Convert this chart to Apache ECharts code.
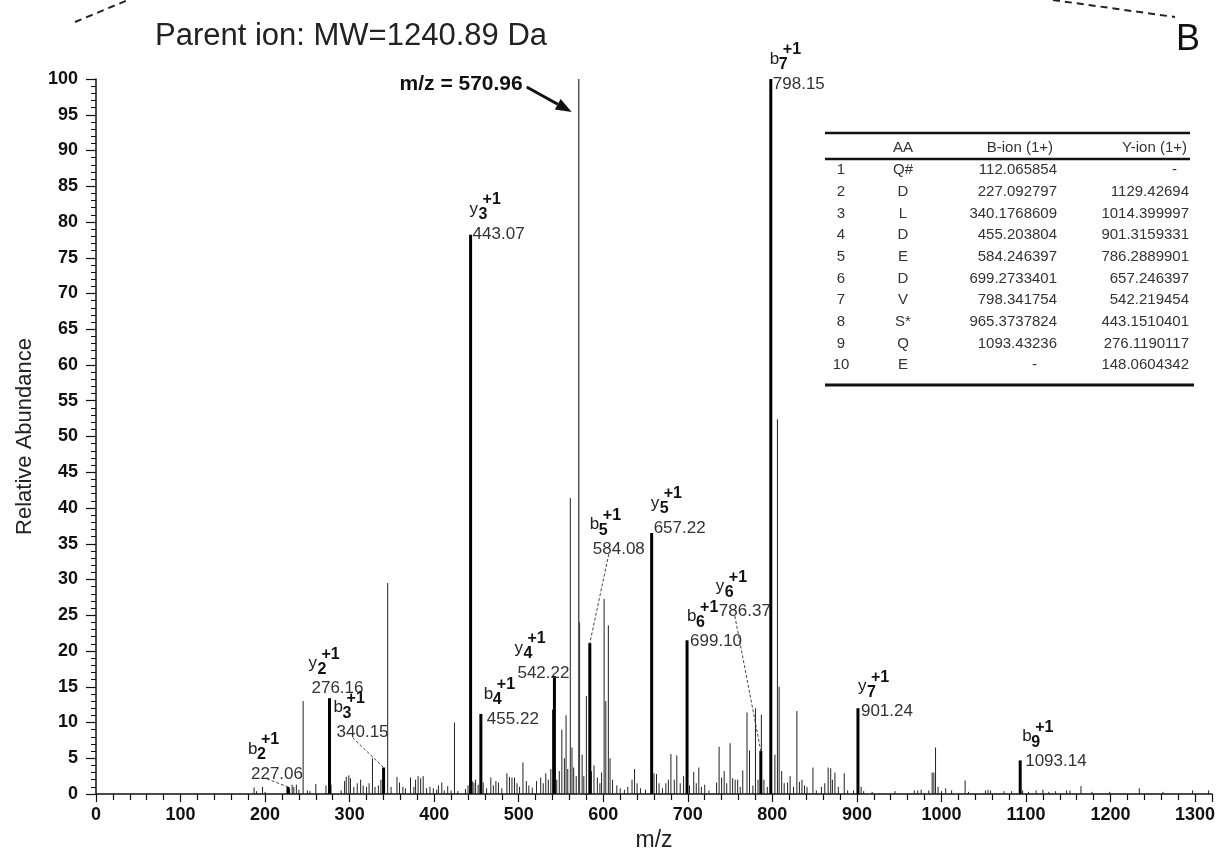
<!DOCTYPE html>
<html>
<head>
<meta charset="utf-8">
<script src="https://cdn.jsdelivr.net/npm/echarts@6/dist/echarts.min.js"></script>
<style>
  html, body { margin: 0; background: #fff; }
  #chart { width: 1221px; height: 851px; }
</style>
</head>
<body>
<div id="chart"></div>
<script>
const FONT = '"Liberation Sans", Arial, sans-serif';

// labelled fragment ions (drawn as thick sticks)
const ionNames = ['b2', 'y2', 'b3', 'y3', 'b4', 'y4', 'b5', 'y5', 'b6', 'y6', 'b7', 'y7', 'b9'];
const ionMz = [227.06, 276.16, 340.15, 443.07, 455.22, 542.22, 584.08, 657.22, 699.10, 786.37, 798.15, 901.24, 1093.14];
const ionAbundance = [1.0, 13.4, 3.7, 78.2, 11.2, 16.5, 21.1, 36.5, 21.5, 6.0, 100, 12.0, 4.7];

// precursor peak pointed at by the arrow
const parentMz = [570.96];
const parentAbundance = [100];

// other (unlabelled) peaks
const peakMz = [
  187, 190, 197, 200, 229, 232, 234, 237, 240, 245, 250, 253, 260, 272, 278, 290,
  294, 296, 299, 301, 305, 309, 313, 316, 320, 323, 327, 330, 334, 337, 345, 349,
  356, 359, 363, 366, 372, 376, 378, 381, 384, 387, 391, 395, 399, 403, 405, 409,
  412, 416, 420, 424, 428, 437, 440, 445, 447, 449, 452, 458, 462, 467, 470, 473,
  476, 480, 486, 489, 492, 495, 498, 501, 505, 509, 512, 516, 521, 526, 529, 532,
  535, 538, 540, 545, 548, 551, 554, 556, 558, 561, 563, 565, 568, 572, 575, 577,
  580, 586, 589, 593, 596, 598, 601, 603, 606, 608, 611, 616, 620, 625, 629, 634,
  637, 640, 644, 650, 660, 663, 666, 670, 674, 677, 680, 684, 687, 691, 695, 702,
  707, 710, 713, 716, 720, 725, 734, 737, 740, 743, 746, 750, 753, 756, 759, 762,
  765, 770, 773, 777, 780, 783, 787, 790, 794, 803, 806, 808, 811, 814, 818, 821,
  825, 829, 832, 835, 838, 841, 848, 852, 858, 862, 866, 869, 871, 874, 878, 885,
  889, 896, 905, 908, 918, 945, 968, 972, 976, 985, 989, 991, 993, 996, 1000, 1005,
  1012, 1028, 1032, 1052, 1055, 1058, 1074, 1083, 1096, 1103, 1112, 1120, 1127, 1135, 1148, 1152,
  1165, 1178, 1199, 1234, 1262, 1297, 1316
];
const peakAbundance = [
  0.9, 0.4, 1.0, 0.3, 0.8, 1.3, 1.0, 1.3, 0.6, 13.0, 0.5, 0.4, 1.4, 1.2, 1.3, 0.5,
  1.8, 2.4, 2.6, 2.2, 1.0, 1.5, 2.0, 1.2, 1.0, 1.5, 5.0, 1.0, 1.2, 2.0, 29.5, 1.0,
  2.4, 1.6, 1.0, 0.8, 2.3, 1.0, 2.0, 2.5, 2.2, 2.5, 0.8, 1.0, 0.8, 0.6, 1.2, 1.6,
  0.5, 1.1, 0.5, 10.0, 0.4, 0.7, 1.2, 1.8, 1.6, 2.0, 1.3, 1.6, 0.8, 2.3, 1.2, 1.8,
  1.6, 0.8, 2.9, 2.4, 2.3, 2.3, 1.5, 1.0, 4.4, 1.8, 1.2, 0.9, 1.8, 2.3, 1.5, 2.9,
  2.0, 3.5, 11.8, 2.0, 3.2, 9.0, 5.0, 11.0, 3.5, 41.4, 6.5, 3.7, 2.5, 24.0, 5.5, 2.5,
  13.7, 3.2, 4.0, 2.3, 1.5, 3.0, 27.3, 13.0, 23.6, 5.0, 2.0, 1.2, 0.8, 0.6, 1.0, 2.0,
  3.5, 1.5, 0.8, 0.6, 2.9, 2.8, 1.5, 0.8, 1.5, 2.0, 5.6, 2.0, 5.4, 1.5, 2.5, 1.2,
  3.1, 1.5, 3.7, 1.0, 1.3, 0.5, 1.6, 6.6, 2.3, 3.2, 1.5, 7.1, 2.2, 2.0, 2.0, 1.0,
  3.3, 11.4, 6.1, 1.2, 12.0, 2.0, 11.1, 2.0, 1.0, 5.5, 52.4, 15.0, 3.2, 1.5, 1.6, 2.5,
  1.0, 11.6, 1.7, 2.0, 1.2, 1.0, 3.7, 0.5, 1.0, 1.5, 3.7, 3.6, 2.0, 3.0, 1.0, 2.9,
  0.5, 0.5, 1.0, 0.4, 0.3, 0.4, 0.5, 0.5, 0.6, 0.5, 3.0, 3.0, 6.5, 1.0, 0.4, 0.8,
  0.5, 1.9, 0.3, 0.5, 0.6, 0.5, 0.4, 0.4, 0.5, 0.3, 0.5, 0.6, 0.3, 0.4, 0.5, 0.5,
  1.1, 0.3, 0.3, 0.8, 0.3, 0.5, 0.5
];

// inset table of theoretical fragment masses
const tableAA = ['Q#', 'D', 'L', 'D', 'E', 'D', 'V', 'S*', 'Q', 'E'];
const tableB = ['112.065854', '227.092797', '340.1768609', '455.203804', '584.246397',
  '699.2733401', '798.341754', '965.3737824', '1093.43236', '-'];
const tableY = ['-', '1129.42694', '1014.399997', '901.3159331', '786.2889901',
  '657.246397', '542.219454', '443.1510401', '276.1190117', '148.0604342'];
const tableHead = ['AA', 'B-ion (1+)', 'Y-ion (1+)'];

// label placement tweaks (px) and whether a leader line is drawn
const labelShift = [
  [-41, -15], [-22, -12], [-51, -37], [-2, -3], [2, 3], [-41, -5], [-1, -96],
  [-2, -7], [-1, -1], [-46, -142], [-2, 3], [-1, 1], [1, -1]
];
const labelLeader = [true, false, true, false, false, false, true, false, false, true, false, false, false];

function txt(t, x, y, size, weight, color, align) {
  return {
    type: 'text', x: x, y: y,
    style: {
      text: t, fill: color, fontSize: size, fontWeight: weight, fontFamily: FONT,
      align: align || 'left', verticalAlign: 'middle'
    }
  };
}

function renderPeak(params, api) {
  const mz = api.value(0);
  const a = api.coord([mz, 0]);
  const b = api.coord([mz, api.value(1)]);
  return {
    type: 'line',
    shape: { x1: a[0], y1: a[1], x2: b[0], y2: b[1] },
    style: { stroke: '#222', lineWidth: 1 }
  };
}

function renderParent(params, api) {
  const mz = api.value(0);
  const a = api.coord([mz, 0]);
  const t = api.coord([mz, api.value(1)]);
  // arrow from the caption to the peak
  const sx = t[0] - 52, sy = t[1] + 8;
  const ex = t[0] - 7, ey = t[1] + 33;
  const dx = ex - sx, dy = ey - sy, len = Math.sqrt(dx * dx + dy * dy);
  const ux = dx / len, uy = dy / len;
  const bx = ex - 16 * ux, by = ey - 16 * uy;
  return {
    type: 'group',
    children: [
      { type: 'line', shape: { x1: a[0], y1: a[1], x2: t[0], y2: t[1] }, style: { stroke: '#555', lineWidth: 1.5 } },
      txt('m/z = ' + mz.toFixed(2), t[0] - 56, t[1] + 5, 21, 'bold', '#111', 'right'),
      { type: 'line', shape: { x1: sx, y1: sy, x2: bx, y2: by }, style: { stroke: '#111', lineWidth: 3 } },
      {
        type: 'polygon',
        shape: { points: [[ex, ey], [bx - 6 * uy, by + 6 * ux], [bx + 6 * uy, by - 6 * ux]] },
        style: { fill: '#111' }
      }
    ]
  };
}

function renderIon(params, api) {
  const i = params.dataIndex;
  const mz = api.value(0);
  const base = api.coord([mz, 0]);
  const top = api.coord([mz, api.value(1)]);
  const nx = top[0] + 4 + labelShift[i][0];
  const ny = top[1] + 2 + labelShift[i][1];
  const name = ionNames[i];
  const children = [
    { type: 'line', shape: { x1: base[0], y1: base[1], x2: top[0], y2: top[1] }, style: { stroke: '#000', lineWidth: 3 } },
    txt(mz.toFixed(2), nx, ny, 17, 'normal', '#333'),
    txt(name[0], nx - 3, ny - 25, 17, 'normal', '#222'),
    txt(name.slice(1), nx + 6, ny - 19, 16, 'bold', '#111'),
    txt('+1', nx + 10, ny - 34, 16, 'bold', '#111')
  ];
  if (labelLeader[i]) {
    children.push({
      type: 'line',
      shape: { x1: nx + 16, y1: ny + 5, x2: top[0], y2: top[1] },
      style: { stroke: '#444', lineWidth: 1, lineDash: [3, 2] }
    });
  }
  return { type: 'group', children: children };
}

// inset table as graphic elements
function buildTable() {
  const left = 825, right = 1190, col0 = 841, colAA = 903, colB = 1057, colY = 1189;
  const ruleTop = 133, headY = 148, rule2 = 159, row0 = 170, step = 21.7, ruleBot = 385;
  const els = [
    { type: 'line', shape: { x1: left, y1: ruleTop, x2: right, y2: ruleTop }, style: { stroke: '#111', lineWidth: 2.5 } },
    { type: 'line', shape: { x1: left, y1: rule2, x2: right, y2: rule2 }, style: { stroke: '#111', lineWidth: 2.5 } },
    { type: 'line', shape: { x1: left, y1: ruleBot, x2: right + 4, y2: ruleBot }, style: { stroke: '#111', lineWidth: 3 } },
    txt(tableHead[0], colAA, headY, 15, 'normal', '#333', 'center'),
    txt(tableHead[1], colB - 4, headY, 15, 'normal', '#333', 'right'),
    txt(tableHead[2], colY - 2, headY, 15, 'normal', '#333', 'right')
  ];
  tableAA.forEach(function (aa, r) {
    const y = row0 + r * step;
    els.push(txt(String(r + 1), col0, y, 15, 'normal', '#333', 'center'));
    els.push(txt(aa, colAA, y, 15, 'normal', '#333', 'center'));
    els.push(txt(tableB[r], tableB[r] === '-' ? colB - 20 : colB, y, 15, 'normal', '#333', 'right'));
    els.push(txt(tableY[r], tableY[r] === '-' ? colY - 12 : colY, y, 15, 'normal', '#333', 'right'));
  });
  return els;
}

const chart = echarts.init(document.getElementById('chart'));
const option = {
  animation: false,
  backgroundColor: '#fff',
  title: {
    text: 'Parent ion: MW=1240.89 Da',
    left: 150,
    top: 16,
    textStyle: { fontFamily: FONT, fontSize: 31, fontWeight: 'normal', color: '#222' }
  },
  grid: { left: 96, right: 9, top: 79, bottom: 57, containLabel: false, outerBoundsMode: 'none' },
  xAxis: {
    type: 'value',
    min: 0,
    max: 1320,
    interval: 100,
    name: 'm/z',
    nameLocation: 'middle',
    nameGap: 32,
    nameTextStyle: { fontFamily: FONT, fontSize: 23, color: '#222' },
    axisLine: { lineStyle: { color: '#111', width: 1.5 } },
    axisTick: { length: 8, lineStyle: { color: '#111', width: 1.2 } },
    minorTick: { show: true, splitNumber: 5, length: 6, lineStyle: { color: '#111', width: 1.2 } },
    axisLabel: {
      showMaxLabel: false, margin: 12, fontFamily: FONT, fontSize: 18, fontWeight: 'bold', color: '#111',
      formatter: function (v) { return String(v); }
    },
    splitLine: { show: false },
    minorSplitLine: { show: false }
  },
  yAxis: {
    type: 'value',
    min: 0,
    max: 100,
    interval: 5,
    name: 'Relative Abundance',
    nameLocation: 'middle',
    nameGap: 60,
    nameTextStyle: { fontFamily: FONT, fontSize: 22, color: '#222' },
    axisLine: { show: true, lineStyle: { color: '#111', width: 1.5 } },
    axisTick: { show: true, length: 10, lineStyle: { color: '#111', width: 1.2 } },
    minorTick: { show: true, splitNumber: 5, length: 5, lineStyle: { color: '#111', width: 1 } },
    axisLabel: { margin: 18, fontFamily: FONT, fontSize: 18, fontWeight: 'bold', color: '#111' },
    splitLine: { show: false },
    minorSplitLine: { show: false }
  },
  graphic: [
    { type: 'line', shape: { x1: 75, y1: 22, x2: 128, y2: 0 }, style: { stroke: '#222', lineWidth: 2, lineDash: [7, 5] } },
    { type: 'line', shape: { x1: 1053, y1: 0, x2: 1175, y2: 17 }, style: { stroke: '#222', lineWidth: 2, lineDash: [7, 5] } },
    txt('B', 1176, 40, 36, 'normal', '#111')
  ].concat(buildTable()),
  series: [
    {
      type: 'custom',
      name: 'peaks',
      renderItem: renderPeak,
      encode: { x: 0, y: 1 },
      silent: true,
      data: peakMz.map(function (m, i) { return [m, peakAbundance[i]]; })
    },
    {
      type: 'custom',
      name: 'parent',
      renderItem: renderParent,
      encode: { x: 0, y: 1 },
      silent: true,
      clip: false,
      data: parentMz.map(function (m, i) { return [m, parentAbundance[i]]; })
    },
    {
      type: 'custom',
      name: 'ions',
      renderItem: renderIon,
      encode: { x: 0, y: 1 },
      silent: true,
      clip: false,
      data: ionMz.map(function (m, i) { return [m, ionAbundance[i]]; })
    }
  ]
};
chart.setOption(option);
</script>
</body>
</html>
